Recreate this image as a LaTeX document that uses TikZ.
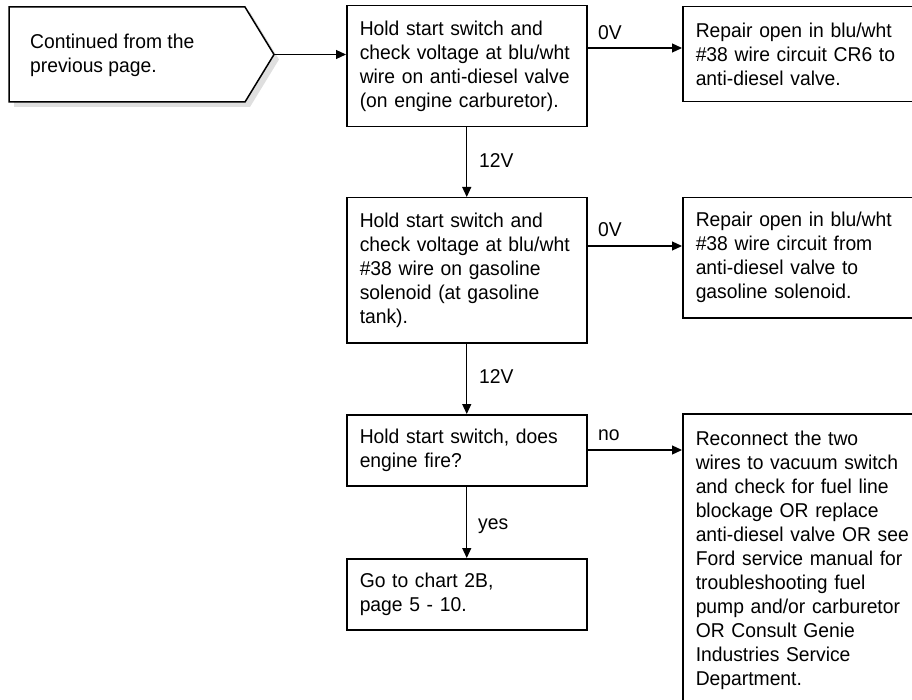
\documentclass[tikz,border=0pt]{standalone}
\usepackage{fontspec}
\setmainfont{Liberation Sans}[FakeStretch=0.965]
\usetikzlibrary{arrows.meta,calc}
\newcommand\myfs{\fontsize{20pt}{24pt}\selectfont}
\tikzset{
  boxl/.style={draw, line width=1.5pt, fill=white, align=left, anchor=north west,
    inner xsep=13pt, inner ysep=2pt, text width=214pt, font=\myfs},
  boxr/.style={boxl, text width=230pt},
  arr/.style={line width=1.2pt, -{Triangle[length=10pt,width=9pt]}},
  lbl/.style={anchor=base west, inner sep=0pt, font=\myfs},
}
\begin{document}
\begin{tikzpicture}[x=1pt,y=-1pt]
\useasboundingbox (0,0) rectangle (912,700);
% start pentagon with shadow
\fill[gray!25] (14,12) -- (250,12) -- (279,59.5) -- (250,107) -- (14,107) -- cycle;
\draw[line width=1.5pt, fill=white] (9,7) -- (245,7) -- (274,54.5) -- (245,102) -- (9,102) -- cycle;
\coordinate (ptip) at (274,54.5);
\node[anchor=west, inner sep=0pt, align=left, font=\myfs] (ptext) at (30,55)
  {Continued from the\\previous page.};

% left column
\node[boxl, minimum height=121pt] (b1) at (346,5)
  {Hold start switch and\\check voltage at blu/wht\\wire on anti-diesel valve\\(on engine carburetor).};
\node[boxl, minimum height=145pt] (b2) at (346,197)
  {Hold start switch and\\check voltage at blu/wht\\\#38 wire on gasoline\\solenoid (at gasoline\\tank).};
\node[boxl, minimum height=71pt] (b3) at (346,414)
  {Hold start switch, does\\engine fire?};
\node[boxl, minimum height=71pt] (b4) at (346,558)
  {Go to chart 2B,\\page 5 - 10.};

% right column
\node[boxr, minimum height=95pt] (r1) at (682,6)
  {Repair open in blu/wht\\\#38 wire circuit CR6 to\\anti-diesel valve.};
\node[boxr, minimum height=120pt] (r2) at (682,197)
  {Repair open in blu/wht\\\#38 wire circuit from\\anti-diesel valve to\\gasoline solenoid.};
\node[boxr, minimum height=294pt] (r3) at (682,413)
  {Reconnect the two\\wires to vacuum switch\\and check for fuel line\\blockage OR replace\\anti-diesel valve OR see\\Ford service manual for\\troubleshooting fuel\\pump and/or carburetor\\OR Consult Genie\\Industries Service\\Department.};

% connector rows
\coordinate (y1) at (0,48);
\coordinate (y2) at (0,246);
\coordinate (y3) at (0,450);

\draw[arr] (ptip) -- (b1.west |- ptip);
\draw[arr] (b1.east |- y1) -- (r1.west |- y1);
\draw[arr] (b2.east |- y2) -- (r2.west |- y2);
\draw[arr] (b3.east |- y3) -- (r3.west |- y3);
\draw[arr] (b1.south) -- (b2.north);
\draw[arr] (b2.south) -- (b3.north);
\draw[arr] (b3.south) -- (b4.north);

% labels
\node[lbl] (l0a) at (598,40) {0V};
\node[lbl] (l0b) at (598,237) {0V};
\node[lbl] (lno) at (598,440) {no};
\node[lbl] (l12a) at (479,168) {12V};
\node[lbl] (l12b) at (479,383) {12V};
\node[lbl] (lyes) at (478,529) {yes};
\end{tikzpicture}
\end{document}
